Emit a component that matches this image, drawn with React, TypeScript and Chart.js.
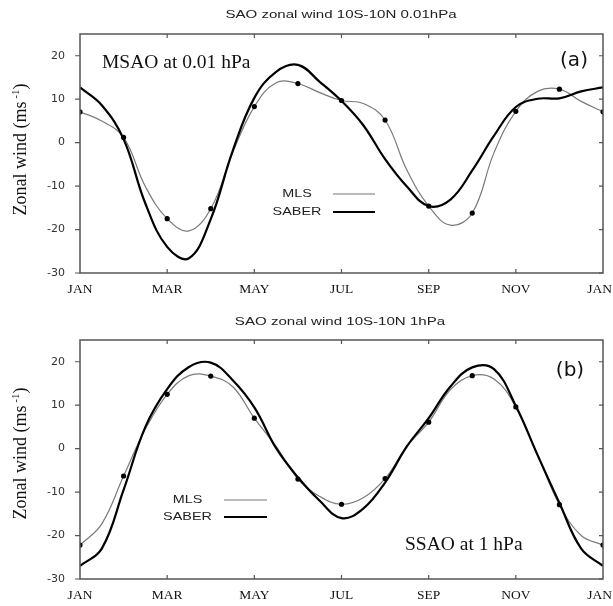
import React, { useEffect, useRef } from "react";
import { Chart, registerables } from "chart.js";
Chart.register(...registerables);

// ---- axes ----
const monthTicks = [0, 2, 4, 6, 8, 10, 12];
const monthLabels = ["JAN", "MAR", "MAY", "JUL", "SEP", "NOV", "JAN"];
const yTicks = [-30, -20, -10, 0, 10, 20];

// ---- panel (a): 0.01 hPa ----
// values at month starts (0..12) and at mid-months (0.5..11.5)
const mlsA_monthly = [7.1, 1.2, -17.5, -15.2, 8.3, 13.6, 9.7, 5.2, -14.6, -16.2, 7.2, 12.3, 7.1];
const mlsA_mid = [5.0, -10.1, -20.3, -2.4, 13.8, 11.5, 9.0, -6.3, -19.0, -2.3, 11.8, 9.5];
const saberA_monthly = [12.7, 0.8, -24.0, -17.6, 10.3, 17.9, 9.6, -3.8, -14.6, -6.4, 8.2, 10.2, 12.7];
const saberA_mid = [8.6, -14.0, -26.6, -2.0, 16.3, 14.0, 4.0, -10.1, -13.1, 1.6, 10.1, 11.8];

// ---- panel (b): 1 hPa ----
const mlsB_monthly = [-22.2, -6.3, 12.5, 16.7, 7.0, -7.0, -12.8, -6.9, 6.1, 16.8, 9.6, -12.9, -22.2];
const mlsB_mid = [-17.3, 4.5, 16.8, 14.3, 0.5, -11.0, -11.3, 0.5, 13.6, 16.0, -1.5, -20.0];
const saberB_monthly = [-27.0, -9.5, 13.7, 19.8, 9.5, -6.6, -16.0, -7.8, 7.0, 18.7, 9.8, -12.5, -27.0];
const saberB_mid = [-23.0, 5.0, 18.8, 15.8, 0.1, -12.0, -13.8, 0.5, 14.3, 18.3, -1.5, -23.0];

function interleave(monthly: number[], mid: number[]) {
  const pts: { x: number; y: number }[] = [];
  monthly.forEach((v, i) => {
    pts.push({ x: i, y: v });
    if (i < mid.length) pts.push({ x: i + 0.5, y: mid[i] });
  });
  return pts;
}

type PanelCfg = {
  title: string;
  titleCx: number;
  titleCy: number;
  tag: string;
  tagCx: number;
  tagBase: number;
  note: string;
  noteX: number;
  noteBase: number;
  legCx: number;
  legY1: number;
  legY2: number;
  legX1: number;
  legX2: number;
  yTitleShift: number;
};

const SANS_STRETCH = 1.37;

function stretchedText(ctx: CanvasRenderingContext2D, text: string, cx: number, cy: number, font: string, sx: number) {
  ctx.save();
  ctx.translate(cx, cy);
  ctx.scale(sx, 1);
  ctx.font = font;
  ctx.textAlign = "center";
  ctx.textBaseline = "middle";
  ctx.fillText(text, 0, 0);
  ctx.restore();
}

function makeDeco(p: PanelCfg) {
  return {
    id: "deco",
    afterDraw(chart: any) {
      const ctx: CanvasRenderingContext2D = chart.ctx;
      const { left, right, top, bottom } = chart.chartArea;
      const xs = chart.scales.x;
      const ys = chart.scales.y;
      ctx.save();
      // frame
      ctx.strokeStyle = "#555";
      ctx.lineWidth = 1.5;
      ctx.strokeRect(left, top, right - left, bottom - top);
      // tick marks
      ctx.lineWidth = 1.2;
      ctx.beginPath();
      yTicks.forEach((v) => {
        const y = ys.getPixelForValue(v);
        ctx.moveTo(left - 5, y);
        ctx.lineTo(left, y);
        ctx.moveTo(right - 4, y);
        ctx.lineTo(right, y);
      });
      monthTicks.slice(1, -1).forEach((v) => {
        const x = xs.getPixelForValue(v);
        ctx.moveTo(x, top);
        ctx.lineTo(x, top + 4);
        ctx.moveTo(x, bottom);
        ctx.lineTo(x, bottom - 4);
      });
      ctx.stroke();

      // x labels
      ctx.fillStyle = "#111";
      ctx.font = "13.5px 'Liberation Serif'";
      ctx.textAlign = "center";
      ctx.textBaseline = "alphabetic";
      monthTicks.forEach((v, i) => {
        const label = monthLabels[i];
        const w = ctx.measureText(label).width;
        let x = xs.getPixelForValue(v);
        x = Math.min(x, chart.width - 1 - w / 2);
        ctx.fillText(label, x, bottom + 19.5);
      });

      // title
      ctx.fillStyle = "#222";
      stretchedText(ctx, p.title, p.titleCx, p.titleCy, "11px 'Liberation Sans'", SANS_STRETCH);

      // tag
      ctx.fillStyle = "#111";
      ctx.font = "20px 'DejaVu Sans'";
      ctx.textAlign = "center";
      ctx.textBaseline = "alphabetic";
      ctx.fillText(p.tag, p.tagCx, p.tagBase);

      // note
      ctx.font = "19.5px 'Liberation Serif'";
      ctx.textAlign = "left";
      ctx.fillText(p.note, p.noteX, p.noteBase);

      // legend
      ctx.fillStyle = "#222";
      stretchedText(ctx, "MLS", p.legCx, p.legY1, "10.5px 'Liberation Sans'", SANS_STRETCH);
      stretchedText(ctx, "SABER", p.legCx, p.legY2, "10.5px 'Liberation Sans'", SANS_STRETCH);
      ctx.strokeStyle = "#777";
      ctx.lineWidth = 1.2;
      ctx.beginPath();
      ctx.moveTo(p.legX1, p.legY1);
      ctx.lineTo(p.legX2, p.legY1);
      ctx.stroke();
      ctx.strokeStyle = "#000";
      ctx.lineWidth = 2;
      ctx.beginPath();
      ctx.moveTo(p.legX1, p.legY2);
      ctx.lineTo(p.legX2, p.legY2);
      ctx.stroke();

      // y-axis title (rotated, with superscript)
      const cy = (top + bottom) / 2 + p.yTitleShift;
      ctx.save();
      ctx.translate(21, cy);
      ctx.rotate(-Math.PI / 2);
      ctx.fillStyle = "#111";
      ctx.textBaseline = "middle";
      ctx.textAlign = "left";
      const mainFont = "18px 'Liberation Serif'";
      const supFont = "11px 'Liberation Serif'";
      const t1 = "Zonal wind (ms";
      const t2 = " -1";
      const t3 = ")";
      ctx.font = mainFont;
      const w1 = ctx.measureText(t1).width;
      const w3 = ctx.measureText(t3).width;
      ctx.font = supFont;
      const w2 = ctx.measureText(t2).width;
      let x0 = -(w1 + w2 + w3) / 2;
      ctx.font = mainFont;
      ctx.fillText(t1, x0, 0);
      x0 += w1;
      ctx.font = supFont;
      ctx.fillText(t2, x0, -5);
      x0 += w2;
      ctx.font = mainFont;
      ctx.fillText(t3, x0, 0);
      ctx.restore();

      ctx.restore();
    },
  };
}

function Panel(props: {
  top: number;
  height: number;
  padTop: number;
  padBottom: number;
  mlsMonthly: number[];
  mlsMid: number[];
  saberMonthly: number[];
  saberMid: number[];
  cfg: PanelCfg;
}) {
  const ref = useRef<HTMLCanvasElement>(null);
  useEffect(() => {
    const canvas = ref.current;
    if (!canvas) return;
    const chart = new Chart(canvas, {
      type: "line",
      data: {
        datasets: [
          {
            label: "MLS markers",
            data: props.mlsMonthly.map((v, i) => ({ x: i, y: v })),
            showLine: false,
            pointRadius: 2.6,
            pointBackgroundColor: "#000",
            pointBorderColor: "#000",
            pointBorderWidth: 0,
            borderColor: "#000",
          },
          {
            label: "SABER",
            data: interleave(props.saberMonthly, props.saberMid),
            borderColor: "#000",
            borderWidth: 2.2,
            pointRadius: 0,
            tension: 0.4,
            fill: false,
          },
          {
            label: "MLS",
            data: interleave(props.mlsMonthly, props.mlsMid),
            borderColor: "#7a7a7a",
            borderWidth: 1.2,
            pointRadius: 0,
            tension: 0.4,
            fill: false,
          },
        ],
      },
      options: {
        responsive: false,
        animation: false,
        devicePixelRatio: 1,
        layout: { padding: { left: 0, right: 10, top: props.padTop, bottom: props.padBottom } },
        plugins: { legend: { display: false }, tooltip: { enabled: false }, title: { display: false } },
        scales: {
          x: {
            type: "linear",
            display: false,
            min: 0,
            max: 12,
          },
          y: {
            type: "linear",
            min: -30,
            max: 25,
            grid: { display: false, drawTicks: false },
            border: { display: false },
            afterBuildTicks: (s: any) => {
              s.ticks = yTicks.map((v) => ({ value: v }));
            },
            afterFit: (s: any) => {
              s.width = 80;
            },
            ticks: {
              padding: 15,
              color: "#333",
              font: { family: "'DejaVu Sans'", size: 11 },
            },
          },
        },
      },
      plugins: [makeDeco(props.cfg)],
    } as any);
    return () => chart.destroy();
  }, []);
  return (
    <canvas
      ref={ref}
      width={613}
      height={props.height}
      style={{ position: "absolute", left: 0, top: props.top, width: 613, height: props.height, display: "block" }}
    />
  );
}

const cfgA: PanelCfg = {
  title: "SAO zonal wind 10S-10N 0.01hPa",
  titleCx: 341,
  titleCy: 15,
  tag: "(a)",
  tagCx: 574,
  tagBase: 65.5,
  note: "MSAO at 0.01 hPa",
  noteX: 102,
  noteBase: 68,
  legCx: 297,
  legY1: 194,
  legY2: 212,
  legX1: 333,
  legX2: 375,
  yTitleShift: -4,
};

const cfgB: PanelCfg = {
  title: "SAO zonal wind 10S-10N 1hPa",
  titleCx: 340,
  titleCy: 21.7,
  tag: "(b)",
  tagCx: 570,
  tagBase: 75.5,
  note: "SSAO at 1 hPa",
  noteX: 405,
  noteBase: 250,
  legCx: 187.5,
  legY1: 200,
  legY2: 217,
  legX1: 224,
  legX2: 267,
  yTitleShift: -6,
};

export default function App() {
  return (
    <div style={{ position: "absolute", left: 0, top: 0, width: 613, height: 606, overflow: "hidden", background: "#fff" }}>
      <Panel
        top={0}
        height={300}
        padTop={34}
        padBottom={27}
        mlsMonthly={mlsA_monthly}
        mlsMid={mlsA_mid}
        saberMonthly={saberA_monthly}
        saberMid={saberA_mid}
        cfg={cfgA}
      />
      <Panel
        top={300}
        height={306}
        padTop={40}
        padBottom={27}
        mlsMonthly={mlsB_monthly}
        mlsMid={mlsB_mid}
        saberMonthly={saberB_monthly}
        saberMid={saberB_mid}
        cfg={cfgB}
      />
    </div>
  );
}
